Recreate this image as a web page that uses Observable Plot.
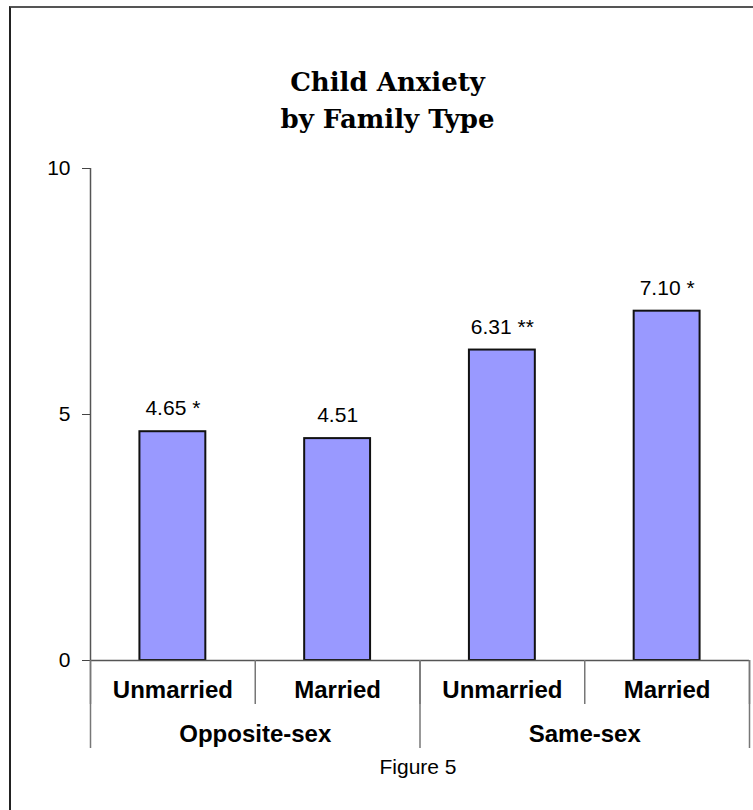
<!DOCTYPE html>
<html>
<head>
<meta charset="utf-8">
<script src="https://cdn.jsdelivr.net/npm/d3@7"></script>
<script src="https://cdn.jsdelivr.net/npm/@observablehq/plot@0.6"></script>
<style>
  html, body { margin: 0; padding: 0; background: #fff; }
  #page { position: relative; width: 753px; height: 810px; overflow: hidden; background: #fff; }
  #frame { position: absolute; left: 9px; top: 6px; width: 800px; height: 900px;
           border-left: 2px solid #222; border-top: 2px solid #555; }
  #title { position: absolute; left: 0; top: 64px; width: 775px; text-align: center;
           font-family: "DejaVu Serif", serif; font-size: 26px; font-weight: bold; line-height: 37px; color: #000; }
  #chart { position: absolute; left: 0; top: 150px; }
  #caption { position: absolute; left: 0; top: 755px; width: 836px; text-align: center;
             font-family: "Liberation Sans", Arial, sans-serif; font-size: 21px; color: #000; }
</style>
</head>
<body>
<div id="page">
  <div id="frame"></div>
  <div id="title">Child Anxiety<br>by Family Type</div>
  <div id="chart"></div>
  <div id="caption">Figure 5</div>
</div>
<script>
// Data
const marital = ["Unmarried", "Married", "Unmarried", "Married"];
const groups = ["Opposite-sex", "Same-sex"];
const values = [4.65, 4.51, 6.31, 7.10];
const valueLabels = ["4.65 *", "4.51", "6.31 **", "7.10 *"];
const yTicks = [0, 5, 10];

const bars = values.map((v, i) => ({i, value: v, label: valueLabels[i], marital: marital[i]}));
const groupRows = groups.map((g, j) => ({j, group: g}));
const sans = '"Liberation Sans", Arial, sans-serif';

const chart = Plot.plot({
  width: 753,
  height: 640,
  marginTop: 18,
  marginBottom: 130,
  marginLeft: 90,
  marginRight: 4,
  style: {fontFamily: sans, fontSize: "21px", color: "#000", background: "transparent", overflow: "visible"},
  x: {type: "linear", domain: [0, marital.length], axis: null},
  y: {domain: [0, 10], axis: null},
  marks: [
    // bars
    Plot.rectY(bars, {x1: d => d.i + 0.3, x2: d => d.i + 0.7, y1: 0, y2: "value",
      fill: "#9999FF", stroke: "#111", strokeWidth: 2}),
    // value labels
    Plot.text(bars, {x: d => d.i + 0.5, y: "value", text: "label", dy: -23,
      fontSize: 21, fill: "#000"}),
    // y axis
    Plot.ruleX([0], {y1: 0, y2: 10, stroke: "#555", strokeWidth: 1.5}),
    Plot.axisY({ticks: yTicks, tickSize: 8, tickPadding: 12, stroke: "#444", fontSize: 21, anchor: "left", label: null}),
    // x axis baseline
    Plot.ruleY([0], {stroke: "#555", strokeWidth: 1.5}),
    // category separators (short) and group separators (long)
    Plot.ruleX(d3.range(marital.length + 1), {y1: 0, y2: 0, insetBottom: -44, stroke: "#777", strokeWidth: 1.5}),
    Plot.ruleX(d3.range(0, marital.length + 1, 2), {y1: 0, y2: 0, insetBottom: -88, stroke: "#777", strokeWidth: 1.5}),
    // category labels
    Plot.text(bars, {x: d => d.i + 0.5, y: 0, text: "marital", dy: 30,
      fontSize: 24, fontWeight: "bold", fill: "#000"}),
    // group labels
    Plot.text(groupRows, {x: d => d.j * 2 + 1, y: 0, text: "group", dy: 74,
      fontSize: 24, fontWeight: "bold", fill: "#000"})
  ]
});
document.getElementById("chart").appendChild(chart);
</script>
</body>
</html>
